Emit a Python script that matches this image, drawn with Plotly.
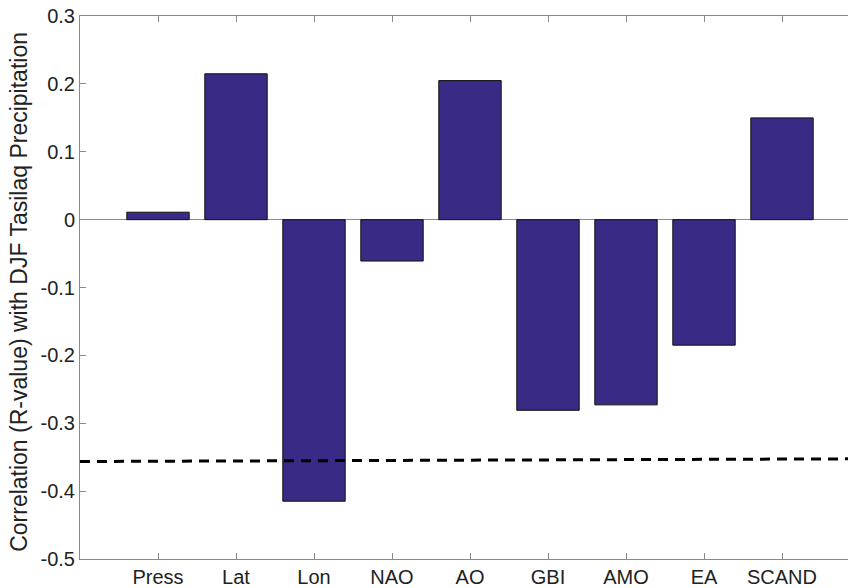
import plotly.graph_objects as go

categories = ["Press", "Lat", "Lon", "NAO", "AO", "GBI", "AMO", "EA", "SCAND"]
r_values = [0.011, 0.215, -0.415, -0.061, 0.205, -0.281, -0.273, -0.185, 0.150]
sig_x = [0, 10]
sig_y = [-0.3565, -0.3525]
y_ticks = [0.3, 0.2, 0.1, 0, -0.1, -0.2, -0.3, -0.4, -0.5]
y_tick_text = ["0.3", "0.2", "0.1", "0", "-0.1", "-0.2", "-0.3", "-0.4", "-0.5"]
y_title = "Correlation (R-value) with DJF Tasilaq Precipitation"

xpos = list(range(1, len(categories) + 1))

fig = go.Figure()
fig.add_trace(go.Bar(
    x=xpos, y=r_values, width=0.8,
    marker=dict(color="#382a85", line=dict(color="#111111", width=1)),
    showlegend=False,
))
fig.add_trace(go.Scatter(
    x=sig_x, y=sig_y, mode="lines",
    line=dict(color="black", width=3, dash="10px,7px"),
    showlegend=False, cliponaxis=True,
))

axis_col = "#8a8a8a"
font_fam = "Liberation Sans, Arial, sans-serif"
fig.update_layout(
    width=848, height=588,
    margin=dict(l=80, r=0, t=16, b=29),
    plot_bgcolor="white", paper_bgcolor="white",
    font=dict(family=font_fam, size=20, color="#222222"),
    xaxis=dict(
        range=[0, 768 / 78], tickmode="array", tickvals=xpos, ticktext=categories,
        showline=True, linecolor=axis_col, linewidth=1, mirror="ticks",
        ticks="inside", ticklen=6, tickcolor=axis_col, ticklabeloverflow="allow",
        showgrid=False, zeroline=False, tickfont=dict(size=20, color="#222222"),
    ),
    yaxis=dict(
        range=[-0.5002, 0.3002], tickmode="array", tickvals=y_ticks, ticktext=y_tick_text,
        showline=True, linecolor=axis_col, linewidth=1,
        ticks="inside", ticklen=6, tickcolor=axis_col, ticklabeloverflow="allow",
        showgrid=False, zeroline=True, zerolinecolor=axis_col, zerolinewidth=1,
        tickfont=dict(size=20, color="#222222"),
    ),
    annotations=[dict(
        text=y_title, textangle=-90, xref="paper", yref="paper",
        x=(19 - 80) / 768, y=0.492, xanchor="center", yanchor="middle",
        showarrow=False, font=dict(size=23, color="#222222"),
    )],
)

fig.write_html(
    "out.html",
    config={"displayModeBar": False},
    post_script="document.body.style.margin='0';document.body.style.overflow='hidden';",
)
